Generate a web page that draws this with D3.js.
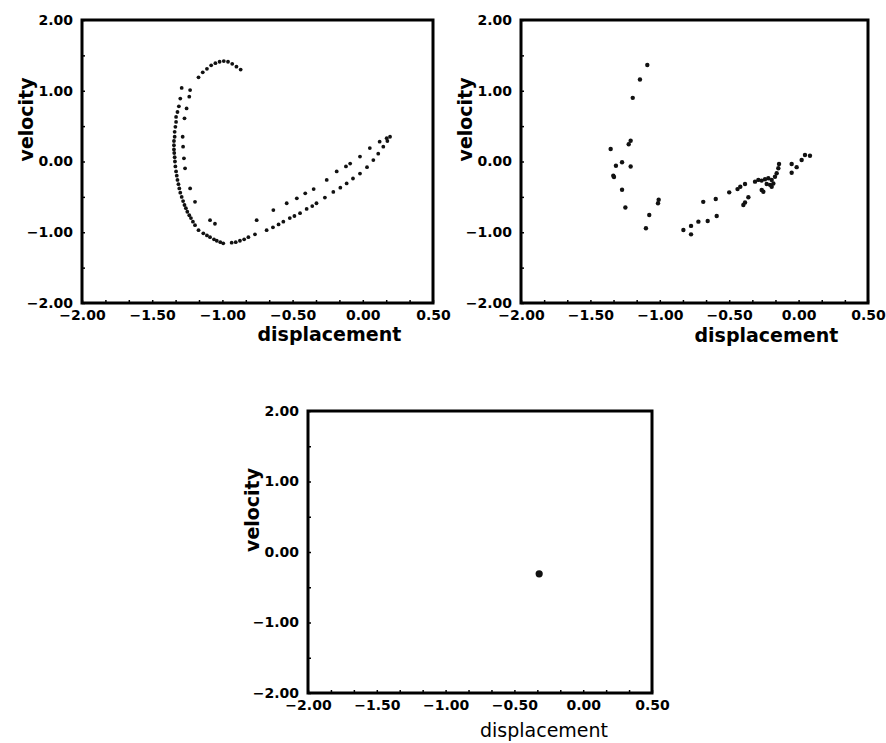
<!DOCTYPE html>
<meta charset="utf-8">
<script src="https://d3js.org/d3.v7.min.js"></script>
<style>
  body { margin: 0; background: #fff; }
  .tick text { font-family: "DejaVu Sans", sans-serif; font-weight: bold; font-size: 14px; fill: #000; }
  .tick line { stroke: #000; stroke-width: 1.5; }
  .axis-title { font-family: "DejaVu Sans", sans-serif; font-weight: bold; font-size: 19px; fill: #000; }
</style>
<div id="chart"></div>
<script>
// phase portraits: [displacement, velocity]
const transientPoints = [
  // top arc
  [-1.17,1.19],[-1.14,1.26],[-1.11,1.31],[-1.08,1.36],[-1.05,1.39],[-1.02,1.41],[-0.99,1.42],
  [-0.96,1.41],[-0.93,1.38],[-0.90,1.34],[-0.87,1.30],
  // outer left track
  [-1.29,1.04],[-1.30,0.89],[-1.31,0.78],[-1.32,0.70],[-1.33,0.63],[-1.33,0.56],[-1.335,0.49],
  [-1.34,0.42],[-1.34,0.35],[-1.345,0.29],[-1.345,0.23],[-1.345,0.17],[-1.343,0.12],[-1.34,0.06],
  [-1.338,0.00],[-1.335,-0.07],[-1.33,-0.14],[-1.325,-0.20],[-1.32,-0.26],[-1.313,-0.32],
  [-1.307,-0.38],[-1.30,-0.44],[-1.29,-0.50],[-1.28,-0.56],[-1.27,-0.615],[-1.26,-0.66],
  [-1.25,-0.71],[-1.236,-0.76],[-1.224,-0.80],[-1.21,-0.85],[-1.195,-0.90],
  // bottom turn
  [-1.17,-0.97],[-1.136,-1.015],[-1.11,-1.045],[-1.088,-1.07],[-1.06,-1.10],[-1.04,-1.12],
  [-1.015,-1.14],[-0.994,-1.157],[-0.934,-1.148],[-0.905,-1.14],[-0.875,-1.12],[-0.845,-1.10],
  [-0.815,-1.07],[-0.768,-1.03],
  // lower right branch
  [-0.685,-0.97],[-0.64,-0.93],[-0.60,-0.89],[-0.566,-0.85],[-0.52,-0.80],[-0.487,-0.77],
  [-0.447,-0.73],[-0.40,-0.67],[-0.36,-0.63],[-0.33,-0.59],[-0.27,-0.51],[-0.21,-0.43],
  [-0.16,-0.37],[-0.115,-0.31],[-0.07,-0.24],[-0.02,-0.17],[0.03,-0.08],[0.075,0.02],
  [0.11,0.11],[0.146,0.21],[0.175,0.29],[0.194,0.35],
  // upper right branch
  [-0.756,-0.83],[-0.637,-0.686],[-0.542,-0.59],[-0.47,-0.52],[-0.41,-0.45],[-0.35,-0.39],
  [-0.257,-0.26],[-0.186,-0.14],[-0.12,-0.07],[-0.09,-0.03],[-0.02,0.07],[0.05,0.19],
  [0.12,0.28],[0.17,0.33],
  // inner left track
  [-1.23,1.01],[-1.236,0.916],[-1.255,0.75],[-1.27,0.61],[-1.283,0.35],[-1.28,0.21],
  [-1.274,0.045],[-1.266,-0.096],[-1.23,-0.38],[-1.195,-0.57],[-1.088,-0.83],[-1.053,-0.88]
];

const scatterPoints = [
  [-1.09,1.364],[-1.143,1.16],[-1.195,0.90],[-1.21,0.294],[-1.224,0.243],[-1.354,0.177],
  [-1.316,-0.06],[-1.272,-0.01],[-1.21,-0.07],[-1.335,-0.20],[-1.33,-0.22],[-1.272,-0.40],
  [-1.248,-0.65],[-1.008,-0.54],[-1.013,-0.59],[-1.076,-0.756],[-1.10,-0.944],[-0.83,-0.968],
  [-0.775,-1.03],[-0.775,-0.91],[-0.722,-0.85],[-0.655,-0.84],[-0.59,-0.77],[-0.687,-0.57],
  [-0.597,-0.53],[-0.50,-0.436],[-0.44,-0.39],[-0.42,-0.356],[-0.386,-0.318],[-0.362,-0.506],
  [-0.386,-0.58],[-0.398,-0.615],[-0.314,-0.285],[-0.29,-0.26],[-0.266,-0.27],[-0.242,-0.25],
  [-0.218,-0.237],[-0.194,-0.26],[-0.17,-0.215],[-0.158,-0.167],[-0.146,-0.096],[-0.141,-0.035],
  [-0.206,-0.33],[-0.182,-0.31],[-0.23,-0.318],[-0.266,-0.403],[-0.254,-0.427],[-0.194,-0.356],
  [-0.05,-0.035],[-0.014,-0.08],[-0.05,-0.158],[0.022,0.021],[0.046,0.092],[0.082,0.082]
];

const fixedPoint = [[-0.32,-0.31]];

const xDomain = [-2, 0.5];
const yDomain = [-2, 2];
const xLabelTicks = [-2, -1.5, -1, -0.5, 0, 0.5];
const yLabelTicks = [-2, -1, 0, 1, 2];

const svg = d3.select("#chart").append("svg")
  .attr("width", 886)
  .attr("height", 743);

// panel frames on the page
const panels = [
  {left: 82,  top: 20,  width: 351, height: 283, data: transientPoints, r: 1.9, titleWeight: "bold",   titleGap: 38},
  {left: 521, top: 20,  width: 347, height: 283, data: scatterPoints,   r: 2.2, titleWeight: "bold",   titleGap: 39},
  {left: 308, top: 411, width: 344, height: 282, data: fixedPoint,      r: 3.6, titleWeight: "normal", titleGap: 44}
];

const fmt = d3.format(".2f");

panels.forEach(function(p) {
  const g = svg.append("g").attr("transform", `translate(${p.left},${p.top})`);

  const x = d3.scaleLinear().domain(xDomain).range([0, p.width]);
  const y = d3.scaleLinear().domain(yDomain).range([p.height, 0]);

  // minor ticks every 1/6 on x, every 0.5 on y, pointing inward
  const xMinor = d3.range(0, 16).map(k => -2 + k / 6);
  const yMinor = d3.range(-2, 2.01, 0.5);

  g.append("g")
    .attr("transform", `translate(0,${p.height})`)
    .call(d3.axisBottom(x).tickValues(xMinor).tickSize(-3).tickFormat(""))
    .call(a => a.select(".domain").remove());
  g.append("g")
    .attr("transform", `translate(0,${p.height})`)
    .call(d3.axisBottom(x).tickValues(xLabelTicks).tickSize(0).tickPadding(7).tickFormat(fmt))
    .call(a => a.select(".domain").remove());

  g.append("g")
    .call(d3.axisLeft(y).tickValues(yMinor).tickSize(-3).tickFormat(""))
    .call(a => a.select(".domain").remove());
  g.append("g")
    .call(d3.axisLeft(y).tickValues(yLabelTicks).tickSize(0).tickPadding(9).tickFormat(fmt))
    .call(a => a.select(".domain").remove());

  g.append("rect")
    .attr("width", p.width)
    .attr("height", p.height)
    .attr("fill", "none")
    .attr("stroke", "#000")
    .attr("stroke-width", 3);

  g.selectAll("circle")
    .data(p.data)
    .join("circle")
      .attr("cx", d => x(d[0]))
      .attr("cy", d => y(d[1]))
      .attr("r", p.r)
      .attr("fill", "#111");

  g.append("text")
    .attr("class", "axis-title")
    .attr("x", x(-0.75))
    .attr("y", p.height + p.titleGap)
    .style("font-weight", p.titleWeight)
    .text("displacement");

  g.append("text")
    .attr("class", "axis-title")
    .attr("transform", `translate(-49,${y(0)}) rotate(-90)`)
    .text("velocity");
});
</script>
